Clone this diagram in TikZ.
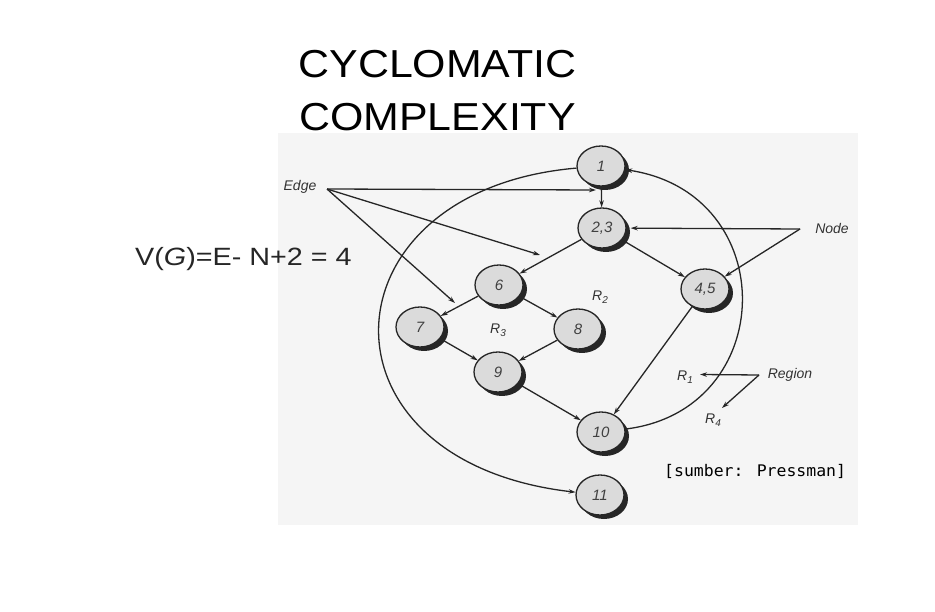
\documentclass[tikz,border=0pt]{standalone}
\usepackage{fontspec}
\setmainfont{Liberation Sans}
\newfontfamily\monofnt{DejaVu Sans Mono}
\usetikzlibrary{shapes.geometric,arrows.meta,shadows}
\begin{document}
\begin{tikzpicture}[x=1pt,y=-1pt,
  gnode/.style={ellipse, draw=black!85, line width=1.3pt, fill=black!14,
    minimum width=48pt, minimum height=40pt, inner sep=0pt,
    font=\itshape\fontsize{15}{15}\selectfont, text=black!75,
    drop shadow={shadow xshift=4pt,shadow yshift=-4pt,opacity=1,fill=black!85}},
  flow/.style={draw=black!85, line width=1.3pt, -{Stealth[length=7pt,width=4.5pt]}},
  lbl/.style={font=\itshape\fontsize{14}{14}\selectfont, text=black!80, inner sep=0pt},
  rlbl/.style={font=\itshape\fontsize{14}{14}\selectfont, text=black!80, inner sep=0pt}
]
\useasboundingbox (0,0) rectangle (935,612);
\fill[white] (0,0) rectangle (935,612);
% scanned page area
\fill[black!4] (278,133) rectangle (858,525);

% title and formula
\node[anchor=base, inner sep=0pt, font=\fontsize{39}{39}\selectfont] (t1) at (437.5,78) {\scalebox{1.1}[1]{CYCLOMATIC}};
\node[anchor=base, inner sep=0pt, font=\fontsize{39}{39}\selectfont] (t2) at (437.5,131) {\scalebox{1.1}[1]{COMPLEXITY}};
\node[anchor=base west, inner sep=0pt, font=\fontsize{25}{25}\selectfont, text=black!85] (vg) at (135,266)
  {\scalebox{1.15}[1]{V(\textit{G})=E- N+2 = 4}};
\node[anchor=base west, inner sep=0pt, font=\monofnt\fontsize{16}{16}\selectfont] (src) at (664,476)
  {\scalebox{1.03}[1]{[sumber: Pressman]}};

% graph nodes
\node[gnode] (n1)  at (601,166) {1};
\node[gnode] (n23) at (602,228) {2,3};
\node[gnode] (n6)  at (499,285) {6};
\node[gnode] (n7)  at (420,327) {7};
\node[gnode] (n8)  at (578,329) {8};
\node[gnode] (n9)  at (498,372) {9};
\node[gnode] (n45) at (705,289) {4,5};
\node[gnode] (n10) at (601,432) {10};
\node[gnode] (n11) at (600,495) {11};

% edges of the flow graph
\draw[flow] (n1) -- (n23);
\draw[flow] (n23) -- (n6);
\draw[flow] (n23) -- (n45);
\draw[flow] (n6) -- (n7);
\draw[flow] (n6) -- (n8);
\draw[flow] (n7) -- (n9);
\draw[flow] (n8) -- (n9);
\draw[flow] (n9) -- (n10);
\draw[flow] (n45) -- (n10);
\draw[flow] (n10) .. controls (778.7,410.6) and (782.8,193.5) .. (n1);
\draw[flow] (n1) .. controls (320,190) and (307,461.5) .. (n11);

% region labels
\node[rlbl] (r1) at (685,377) {R\raisebox{-3pt}{\fontsize{10}{10}\selectfont 1}};
\node[rlbl] (r2) at (600,297) {R\raisebox{-3pt}{\fontsize{10}{10}\selectfont 2}};
\node[rlbl] (r3) at (498,330) {R\raisebox{-3pt}{\fontsize{10}{10}\selectfont 3}};
\node[rlbl] (r4) at (713,420) {R\raisebox{-3pt}{\fontsize{10}{10}\selectfont 4}};

% annotation labels
\node[lbl] (edge) at (300,187) {Edge};
\node[lbl] (node) at (832,229) {Node};
\node[lbl] (region) at (790,375) {Region};

\coordinate (eo) at (327,189);
\coordinate (et1) at (596,190);
\coordinate (et2) at (540,255);
\coordinate (et3) at (455,303);
\draw[flow] (eo) -- (et1);
\draw[flow] (eo) -- (et2);
\draw[flow] (eo) -- (et3);

\coordinate (no) at (800,229);
\draw[flow, shorten >=4pt] (no) -- (n23);
\draw[flow] (no) -- (n45);

\coordinate (ro) at (759,375);
\coordinate (rt1) at (700,374.5);
\coordinate (rt2) at (722,408);
\draw[flow] (ro) -- (rt1);
\draw[flow] (ro) -- (rt2);
\end{tikzpicture}
\end{document}
